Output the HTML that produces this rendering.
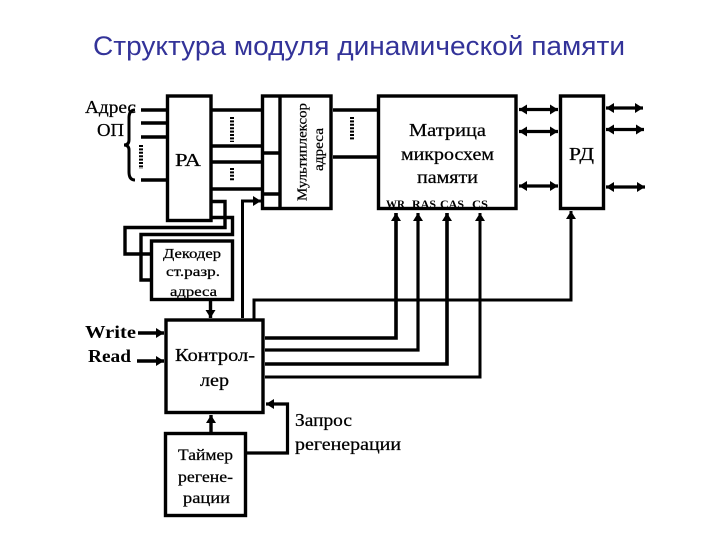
<!DOCTYPE html>
<html><head><meta charset="utf-8"><style>html,body{margin:0;padding:0;background:#fff}svg{display:block}
text{font-family:"Liberation Serif","Noto Serif CJK SC",serif;fill:#000}
.s{font-size:18px}.h text,text.h{stroke:#000;stroke-width:.25px}</style></head><body>
<svg width="720" height="540" viewBox="0 0 720 540" xmlns="http://www.w3.org/2000/svg">
<defs><marker id="a" markerUnits="userSpaceOnUse" markerWidth="9" markerHeight="10" refX="8" refY="5" orient="auto-start-reverse"><path d="M0 0L8 5L0 10z"/></marker></defs>
<text x="93" y="55" textLength="532" lengthAdjust="spacingAndGlyphs" style="font-family:'Liberation Sans',sans-serif;font-size:26.5px;fill:#333399">Структура модуля динамической памяти</text>
<g fill="none" stroke="#000" stroke-width="3.4">
<rect x="167.5" y="96" width="43.5" height="124.5"/>
<rect x="262.5" y="96" width="68.5" height="112.5"/>
<path d="M280 96V208"/>
<rect x="378.5" y="96" width="137.5" height="112.5"/>
<rect x="560.5" y="96" width="43" height="112.5"/>
<rect x="151.5" y="241" width="81" height="58.5"/>
<rect x="166" y="320" width="97" height="92.5"/>
<rect x="165.5" y="433.5" width="80" height="82"/>
<path d="M141 110H166M141 123H166M141 137H166M141 180H166" stroke-width="3.6"/>
<path d="M212 110H262M212 146H262M212 162H262M212 189H262M262 153H280M262 194H280M333 110H377M333 157H377"/>
<path d="M141 145V169M232 117V142M232 168V181M352 117V140" stroke-width="4" stroke-dasharray="2 1.4"/>
<path d="M135 110Q129 110 129 118V140Q129 145 124 145Q129 145 129 150V172Q129 180 135 180" stroke-width="3"/>
<path d="M212 201.500H225V227.500H125V254H150M212 217.500H232.500V234.500H141V280H150"/>
<path d="M265 338H396V213" stroke-width="3.600" marker-end="url(#a)"/>
<path d="M265 350H418V213" stroke-width="3.200" marker-end="url(#a)"/>
<path d="M265 364H447V213" stroke-width="3.600" marker-end="url(#a)"/>
<path d="M265 377H480V213" stroke-width="3" marker-end="url(#a)"/>
<path d="M242.500 318V201H261" marker-end="url(#a)" stroke-width="3"/>
<path d="M254 319V300H571V211" marker-end="url(#a)" stroke-width="3"/>
<path d="M210.500 301V318" marker-end="url(#a)"/>
<path d="M138 333H164" marker-end="url(#a)" stroke-width="3.600"/>
<path d="M137 361H164" marker-end="url(#a)" stroke-width="3.600"/>
<path d="M211 432V415" marker-end="url(#a)"/>
<path d="M247 453H287.500V404H266" marker-end="url(#a)" stroke-width="3.200"/>
<path d="M519 109.500H558" marker-start="url(#a)" marker-end="url(#a)" stroke-width="3.200"/>
<path d="M519 131.500H558" marker-start="url(#a)" marker-end="url(#a)" stroke-width="3.200"/>
<path d="M519 186H558" marker-start="url(#a)" marker-end="url(#a)" stroke-width="3.200"/>
<path d="M606 108H643" marker-start="url(#a)" marker-end="url(#a)" stroke-width="3.200"/>
<path d="M606 129.500H644" marker-start="url(#a)" marker-end="url(#a)" stroke-width="3.200"/>
<path d="M606 187H645" marker-start="url(#a)" marker-end="url(#a)" stroke-width="3.200"/>
</g>
<g class="h">
<text class="s" x="85" y="113" textLength="51" lengthAdjust="spacingAndGlyphs">Адрес</text>
<text class="s" x="97" y="136" textLength="27" lengthAdjust="spacingAndGlyphs">ОП</text>
<text class="s" x="175" y="166" textLength="26" lengthAdjust="spacingAndGlyphs">РА</text>
<text transform="translate(306.500 201) rotate(-90)" font-size="14" textLength="98" lengthAdjust="spacingAndGlyphs">Мультиплексор</text>
<text transform="translate(323 171) rotate(-90)" font-size="14" textLength="43" lengthAdjust="spacingAndGlyphs">адреса</text>
<text class="s" x="409" y="136" textLength="77" lengthAdjust="spacingAndGlyphs">Матрица</text>
<text class="s" x="401" y="160" textLength="93" lengthAdjust="spacingAndGlyphs">микросхем</text>
<text class="s" x="417" y="183" textLength="61" lengthAdjust="spacingAndGlyphs">памяти</text>
<text class="s" x="569" y="160" textLength="25" lengthAdjust="spacingAndGlyphs">РД</text>
<text font-size="14" x="163" y="258" textLength="58" lengthAdjust="spacingAndGlyphs">Декодер</text>
<text font-size="14" x="166" y="276" textLength="54" lengthAdjust="spacingAndGlyphs">ст.разр.</text>
<text font-size="14" x="170" y="296" textLength="47" lengthAdjust="spacingAndGlyphs">адреса</text>
<text class="s" x="175" y="361" textLength="80" lengthAdjust="spacingAndGlyphs">Контрол-</text>
<text class="s" x="200" y="386" textLength="29" lengthAdjust="spacingAndGlyphs">лер</text>
<text font-size="16" x="178" y="460" textLength="55" lengthAdjust="spacingAndGlyphs">Таймер</text>
<text font-size="16" x="178" y="482" textLength="55" lengthAdjust="spacingAndGlyphs">регене-</text>
<text font-size="16" x="183" y="503" textLength="47" lengthAdjust="spacingAndGlyphs">рации</text>
<text class="s" x="295" y="426" textLength="57" lengthAdjust="spacingAndGlyphs">Запрос</text>
<text class="s" x="295" y="450" textLength="106" lengthAdjust="spacingAndGlyphs">регенерации</text>
</g>
<g font-size="12" font-weight="bold">
<text x="386" y="208" textLength="19" lengthAdjust="spacingAndGlyphs">WR</text>
<text x="412" y="208" textLength="24" lengthAdjust="spacingAndGlyphs">RAS</text>
<text x="440" y="208" textLength="24" lengthAdjust="spacingAndGlyphs">CAS</text>
<text x="472" y="208" textLength="16" lengthAdjust="spacingAndGlyphs">CS</text>
</g>
<text class="s" x="85" y="338" textLength="51" lengthAdjust="spacingAndGlyphs" style="font-weight:bold">Write</text>
<text class="s" x="88" y="362" textLength="43" lengthAdjust="spacingAndGlyphs" style="font-weight:bold">Read</text>
</svg></body></html>
